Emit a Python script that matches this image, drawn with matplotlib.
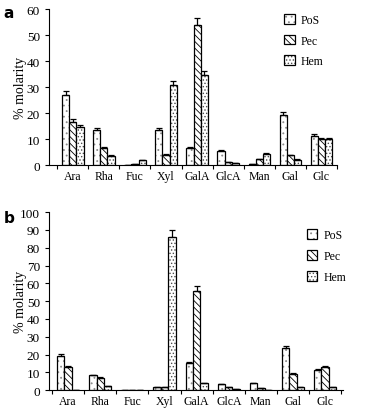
import matplotlib
matplotlib.use('Agg')
import matplotlib.pyplot as plt
from matplotlib.legend_handler import HandlerTuple
import numpy as np

plt.rcParams['font.family'] = ['Liberation Serif', 'DejaVu Serif']
plt.rcParams['hatch.linewidth'] = 0.6

SUGARS = ['Ara', 'Rha', 'Fuc', 'Xyl', 'GalA', 'GlcA', 'Man', 'Gal', 'Glc']
SERIES = ['PoS', 'Pec', 'Hem']

# panel a
a_pos = [27.0, 13.6, 0.2, 13.6, 6.5, 5.5, 0.5, 19.4, 11.3]
a_pec = [16.7, 6.7, 0.5, 4.0, 54.0, 1.0, 2.3, 3.8, 9.9]
a_hem = [14.7, 3.5, 1.8, 30.6, 34.5, 0.6, 4.2, 2.0, 10.1]
a_pos_err = [1.3, 0.8, 0.0, 0.8, 0.3, 0.3, 0.0, 1.1, 0.5]
a_pec_err = [0.9, 0.3, 0.0, 0.2, 2.6, 0.0, 0.2, 0.2, 0.4]
a_hem_err = [0.7, 0.2, 0.2, 1.6, 1.8, 0.0, 0.3, 0.2, 0.4]

# panel b
b_pos = [19.1, 8.3, 0.0, 1.9, 15.4, 3.2, 3.8, 23.5, 11.4]
b_pec = [13.1, 7.1, 0.0, 1.9, 55.5, 1.9, 1.0, 9.2, 12.8]
b_hem = [0.0, 2.1, 0.0, 86.1, 4.1, 0.8, 0.0, 1.9, 1.9]
b_pos_err = [1.0, 0.3, 0.0, 0.0, 0.6, 0.0, 0.0, 1.2, 0.4]
b_pec_err = [0.5, 0.3, 0.0, 0.0, 2.8, 0.0, 0.0, 0.4, 0.5]
b_hem_err = [0.0, 0.0, 0.0, 4.0, 0.0, 0.0, 0.0, 0.0, 0.0]

HATCHES = {'PoS': '...', 'Pec': '\\\\\\\\\\', 'Hem': '.....'}
HATCH_COLORS = {'PoS': '0.55', 'Pec': 'black', 'Hem': '0.3'}
width = 0.23


def draw_panel(ax, vals, errs, ymax, ystep, xlim, legend_anchor, ylab_x):
    x = np.arange(len(SUGARS))
    handles = []
    for i, name in enumerate(SERIES):
        v = np.array(vals[i])
        e = np.array(errs[i])
        xs = x + (i - 1) * width
        # hatch layer (coloured hatch) then black outline on top
        h1 = ax.bar(xs, v, width=width, color='white', edgecolor=HATCH_COLORS[name],
                    linewidth=0, hatch=HATCHES[name])
        h2 = ax.bar(xs, v, width=width, fill=False, edgecolor='black', linewidth=0.9,
                    yerr=[np.zeros_like(e), e],
                    error_kw=dict(elinewidth=0.9, capsize=2.5, capthick=0.9, ecolor='black'))
        handles.append((h1, h2))
    ax.set_xlim(*xlim)
    ax.set_ylim(0, ymax)
    ax.set_yticks(np.arange(0, ymax + 1, ystep))
    ax.set_xticks(x)
    ax.set_xticklabels(SUGARS, fontsize=8.5)
    ax.set_xticks(np.arange(-0.5, len(SUGARS), 1), minor=True)
    ax.tick_params(axis='x', which='major', length=0, pad=3.5)
    ax.tick_params(axis='x', which='minor', length=3, width=0.8)
    ax.tick_params(axis='y', labelsize=9.5, length=3, width=0.8)
    ax.spines['top'].set_visible(False)
    ax.spines['right'].set_visible(False)
    ax.spines['left'].set_linewidth(0.8)
    ax.spines['bottom'].set_linewidth(0.8)
    ax.set_ylabel('% molarity', fontsize=10)
    ax.yaxis.set_label_coords(ylab_x, 0.5)
    ax.legend(handles, SERIES, handler_map={tuple: HandlerTuple(ndivide=1)},
              loc='upper left', bbox_to_anchor=legend_anchor, frameon=False,
              fontsize=8.5, handlelength=0.9, handleheight=0.9,
              labelspacing=0.75, handletextpad=0.5, borderaxespad=0)


fig = plt.figure(figsize=(3.65, 4.10), dpi=100)

ax1 = fig.add_axes([0.134, 0.595, 0.789, 0.3806])
draw_panel(ax1, [a_pos, a_pec, a_hem], [a_pos_err, a_pec_err, a_hem_err],
           60, 10, (-0.77, 8.5), (0.8, 1.0), -0.075)

ax2 = fig.add_axes([0.134, 0.046, 0.806, 0.434])
draw_panel(ax2, [b_pos, b_pec, b_hem], [b_pos_err, b_pec_err, b_hem_err],
           100, 10, (-0.6, 8.56), (0.86, 0.93), -0.074)

fig.text(0.01, 0.985, 'a', fontsize=11, fontweight='bold', family='DejaVu Sans', va='top')
fig.text(0.01, 0.485, 'b', fontsize=11, fontweight='bold', family='DejaVu Sans', va='top')

fig.savefig('out.png', dpi=100)
